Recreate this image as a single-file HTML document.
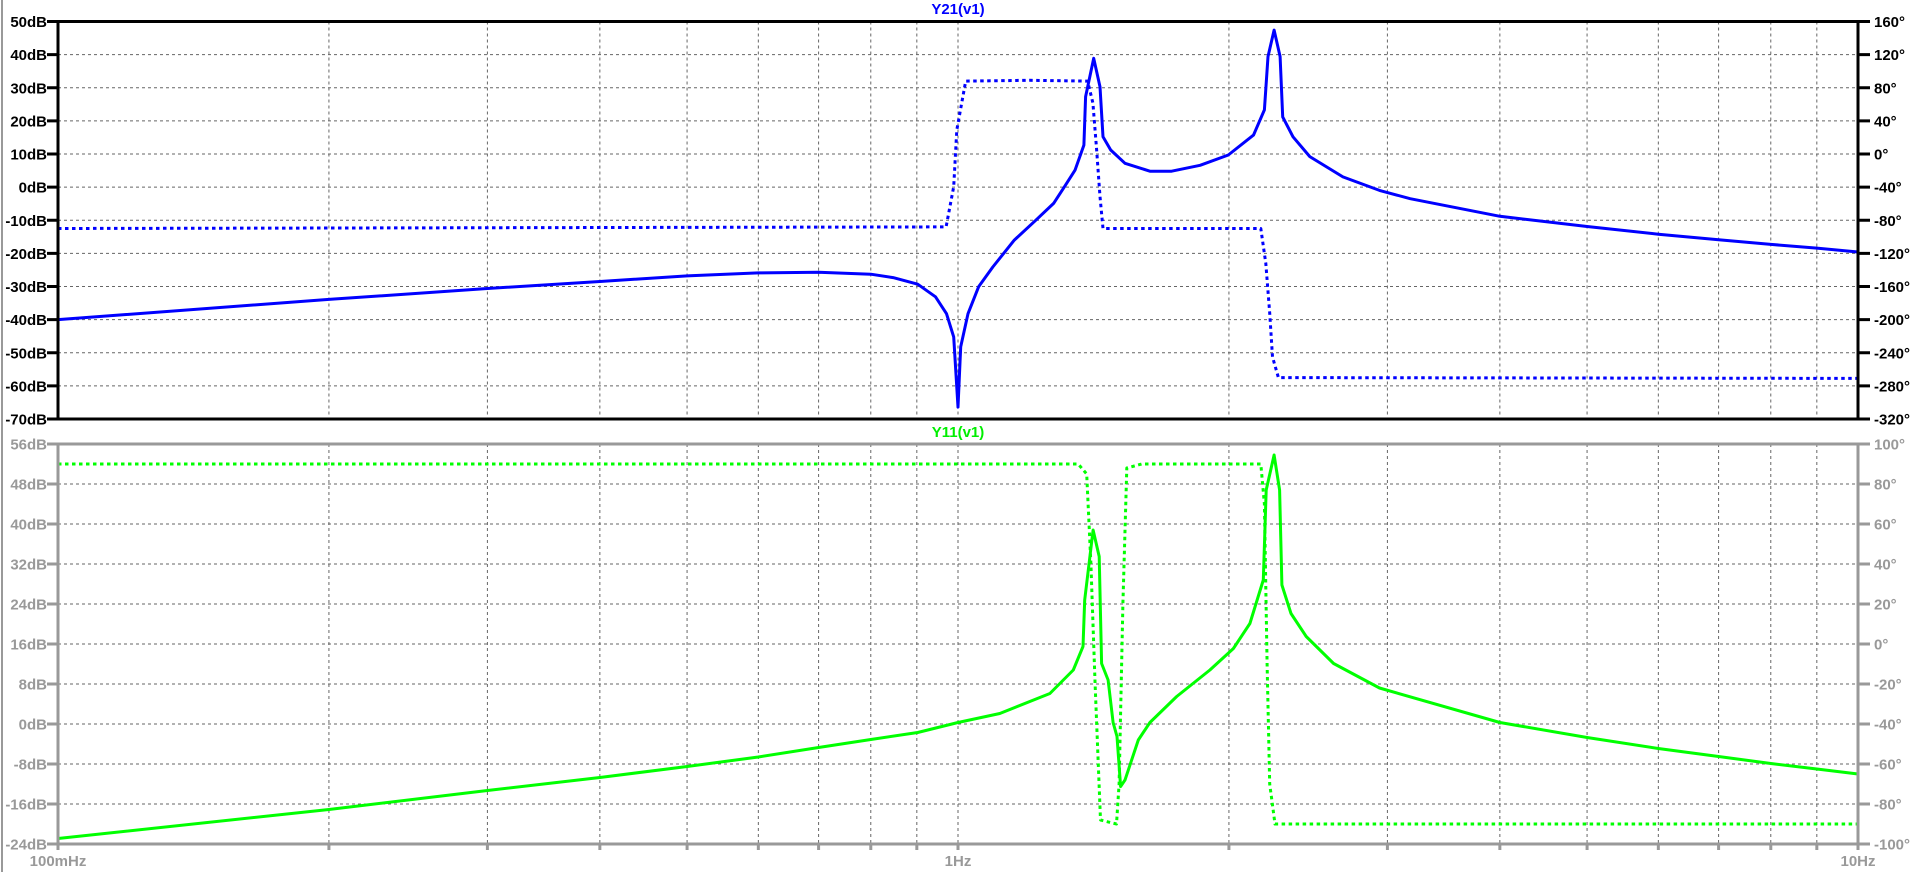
<!DOCTYPE html>
<html><head><meta charset="utf-8">
<style>
html,body{margin:0;padding:0;background:#fff;}
svg{display:block;}
text{font-family:"Liberation Sans",Arial,sans-serif;font-weight:bold;font-size:15px;}
</style></head>
<body>
<svg id="chart" width="1912" height="872" viewBox="0 0 1912 872" xmlns="http://www.w3.org/2000/svg">
<rect x="0" y="0" width="1912" height="872" fill="#fff"/>
<line x1="2" y1="0" x2="2" y2="872" stroke="#999" stroke-width="2"/>
<g id="grid"></g>
<g id="series"></g>
<g id="axes"></g>
<text x="958" y="14" text-anchor="middle" fill="#0000ff">Y21(v1)</text>
<text x="958" y="437" text-anchor="middle" fill="#00ee00">Y11(v1)</text>
</svg>
<script>
// ---- data ----
const y21MagFreq = [0.1,0.2,0.3,0.4,0.5,0.6,0.7,0.8,0.847,0.902,0.944,0.971,0.989,1.0,1.007,1.026,1.054,1.093,1.155,1.22,1.277,1.313,1.349,1.38,1.386,1.415,1.438,1.449,1.478,1.533,1.634,1.727,1.858,1.997,2.13,2.19,2.21,2.245,2.28,2.295,2.356,2.46,2.677,2.94,3.18,4,5,6,7,8,9,10];
const y21MagDb = [-40,-33.9,-30.6,-28.5,-26.8,-25.9,-25.7,-26.3,-27.3,-29.3,-33.1,-38.2,-45.2,-66.4,-48.2,-38.2,-30.1,-24.1,-16.0,-10.0,-4.9,0.1,5.1,12.7,27.3,38.9,30.3,15.2,11.2,7.2,4.8,4.8,6.6,9.7,15.7,23.3,39.4,47.4,39.4,21.2,15.2,9.2,3.1,-1.0,-3.5,-8.8,-11.9,-14.2,-15.9,-17.3,-18.4,-19.6];
const y21PhFreq = [0.1,0.97,0.989,0.997,1.02,1.2,1.393,1.412,1.425,1.438,1.449,2.17,2.198,2.22,2.236,2.27,10];
const y21PhDeg = [-90,-88,-39.5,29,88,89,88,61.6,8.8,-51.5,-90,-90,-132,-192,-245,-270,-271];
const y11MagFreq = [0.1,0.2,0.3,0.4,0.5,0.6,0.7,0.8,0.902,1.0,1.113,1.265,1.343,1.377,1.383,1.413,1.435,1.444,1.468,1.487,1.502,1.516,1.533,1.586,1.634,1.75,1.905,2.023,2.11,2.184,2.2,2.245,2.277,2.29,2.344,2.437,2.614,2.94,4,5,6,7,8,9,10];
const y11MagDb = [-22.9,-17.1,-13.3,-10.7,-8.5,-6.6,-4.7,-3.1,-1.7,0.3,2.1,6.1,10.8,15.5,24.8,38.8,33.5,12.1,8.8,0.3,-2.5,-12.5,-11.2,-3.2,0.3,5.5,10.8,15.1,20.1,28.8,46.8,53.8,46.8,27.8,22.1,17.5,12.1,7.2,0.3,-2.7,-4.9,-6.5,-7.9,-9.0,-10.0];
const y11PhFreq = [0.1,1.36,1.39,1.405,1.42,1.44,1.5,1.51,1.525,1.54,1.6,2.17,2.19,2.205,2.22,2.25,10];
const y11PhDeg = [90,90,85,40,-20,-88,-90,-70,20,88,90,90,70,-10,-70,-90,-90];
const topDbTicks = [50,40,30,20,10,0,-10,-20,-30,-40,-50,-60,-70];
const topDegTicks = [160,120,80,40,0,-40,-80,-120,-160,-200,-240,-280,-320];
const botDbTicks = [56,48,40,32,24,16,8,0,-8,-16,-24];
const botDegTicks = [100,80,60,40,20,0,-20,-40,-60,-80,-100];
const xLabels = ["100mHz","1Hz","10Hz"];

// ---- layout ----
const X0=58, X1=1858;
const TOP={y0:21.5,y1:419}, BOT={y0:444,y1:844};
const NS="http://www.w3.org/2000/svg";
function xS(f){return X0+(X1-X0)*(Math.log10(f)+1)/2;}
function lin(v,vmax,vmin,p){return p.y0+(vmax-v)/(vmax-vmin)*(p.y1-p.y0);}
const yTopDb=v=>lin(v,50,-70,TOP), yTopDeg=v=>lin(v,160,-320,TOP);
const yBotDb=v=>lin(v,56,-24,BOT), yBotDeg=v=>lin(v,100,-100,BOT);
function mk(tag,attrs,parent){const e=document.createElementNS(NS,tag);for(const k in attrs)e.setAttribute(k,attrs[k]);parent.appendChild(e);return e;}
const grid=document.getElementById('grid'), axes=document.getElementById('axes'), series=document.getElementById('series');

// vertical grid (log minors)
const minors=[];
for(const d of [0.1,1]) for(let k=2;k<=9;k++) minors.push(d*k);
minors.push(1);
for(const p of [TOP,BOT]){
  for(const f of minors){
    const l=mk('line',{x1:xS(f),x2:xS(f),y1:p.y0,y2:p.y1,stroke:'#666','stroke-width':1,'stroke-dasharray':'3 3'},grid);
    
    
  }
}
function hgrid(ticks,fn,p){
  ticks.forEach(v=>{const y=fn(v); if(Math.abs(y-p.y0)<1||Math.abs(y-p.y1)<1)return;
    const l=mk('line',{x1:X0,x2:X1,y1:y,y2:y,stroke:'#666','stroke-width':1,'stroke-dasharray':'3 3'},grid);
    
    });
}
hgrid(topDbTicks,yTopDb,TOP); hgrid(botDbTicks,yBotDb,BOT);

// frames & ticks
function frame(p,color,name){
  const r=mk('rect',{x:X0,y:p.y0,width:X1-X0,height:p.y1-p.y0,fill:'none',stroke:color,'stroke-width':3},axes);
  
  
}
frame(TOP,'#000','top-pane-frame'); frame(BOT,'#999','bottom-pane-frame');
function leftTicks(ticks,fn,color,fmt,name){
  ticks.forEach(v=>{const y=fn(v);
    mk('line',{x1:X0-11,x2:X0,y1:y,y2:y,stroke:color,'stroke-width':3},axes);
    const t=mk('text',{x:X0-11,y:y+5.5,'text-anchor':'end',fill:color},axes);
    t.textContent=fmt(v);
    
    });
}
function rightTicks(ticks,fn,color,name){
  ticks.forEach(v=>{const y=fn(v);
    mk('line',{x1:X1,x2:X1+12,y1:y,y2:y,stroke:color,'stroke-width':3},axes);
    const t=mk('text',{x:X1+16,y:y+5.5,'text-anchor':'start',fill:color},axes);
    t.textContent=v+'°';
    
    });
}
leftTicks(topDbTicks,yTopDb,'#000',v=>v+'dB','top-left-tick-label');
rightTicks(topDegTicks,yTopDeg,'#000','top-right-tick-label');
leftTicks(botDbTicks,yBotDb,'#999',v=>v+'dB','bottom-left-tick-label');
rightTicks(botDegTicks,yBotDeg,'#999','bottom-right-tick-label');
minors.concat([0.1,10]).forEach(f=>{mk('line',{x1:xS(f),x2:xS(f),y1:BOT.y1,y2:BOT.y1+6,stroke:'#999','stroke-width':3},axes);});
[0.1,1,10].forEach((f,i)=>{
  const t=mk('text',{x:xS(f),y:866,'text-anchor':'middle',fill:'#999'},axes);
  t.textContent=xLabels[i];
  
  
});

// series
function path(fs,vs,fn,color,dash,name){
  const d=fs.map((f,i)=>(i?'L':'M')+xS(f).toFixed(1)+','+fn(vs[i]).toFixed(1)).join('');
  const p=mk('path',{d:d,fill:'none',stroke:color,'stroke-width':3,'stroke-linejoin':'round'},series);
  if(dash)p.setAttribute('stroke-dasharray',dash);
  
  
}
path(y21MagFreq,y21MagDb,yTopDb,'#0000ff',null,'y21-magnitude-line');
path(y21PhFreq,y21PhDeg,yTopDeg,'#0000ff','3.5 3.5','y21-phase-line');
path(y11MagFreq,y11MagDb,yBotDb,'#00ff00',null,'y11-magnitude-line');
path(y11PhFreq,y11PhDeg,yBotDeg,'#00ff00','3.5 3.5','y11-phase-line');
</script>
</body></html>
